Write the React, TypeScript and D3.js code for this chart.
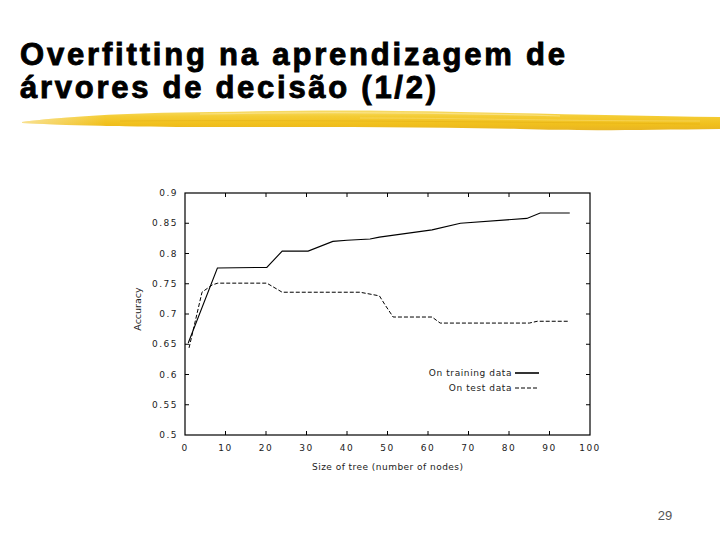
import React from "react";
import * as d3 from "d3";

const titleLines = ["Overfitting na aprendizagem de", "árvores de decisão (1/2)"];
const xTicks = [0, 10, 20, 30, 40, 50, 60, 70, 80, 90, 100];
const yTicks = [0.5, 0.55, 0.6, 0.65, 0.7, 0.75, 0.8, 0.85, 0.9];
const yTickLabels = ["0.5", "0.55", "0.6", "0.65", "0.7", "0.75", "0.8", "0.85", "0.9"];

const trainSize = [0.8, 8, 20.2, 24, 30.4, 36.5, 40, 45.7, 48, 61, 68, 84.4, 87.7, 95];
const trainAcc = [0.652, 0.776, 0.777, 0.804, 0.804, 0.82, 0.822, 0.824, 0.827, 0.839, 0.85, 0.858, 0.867, 0.867];

const testSize = [1, 4.2, 6.7, 8.1, 20.2, 24, 43.2, 48, 49.4, 51.4, 61, 63, 85, 87, 95];
const testAcc = [0.644, 0.736, 0.748, 0.751, 0.751, 0.736, 0.736, 0.73, 0.715, 0.695, 0.695, 0.685, 0.685, 0.688, 0.688];

const legendLabels = ["On training data", "On test data"];
const xAxisTitle = "Size of tree (number of nodes)";
const yAxisTitle = "Accuracy";
const pageNumber = "29";

export default function App() {
  const W = 720, H = 540;
  const x = d3.scaleLinear().domain([0, 100]).range([185, 590]);
  const y = d3.scaleLinear().domain([0.5, 0.9]).range([435, 193]);
  const line = d3.line<[number, number]>().x(d => x(d[0])).y(d => y(d[1]));
  const trainPts = trainSize.map((s, i) => [s, trainAcc[i]] as [number, number]);
  const testPts = testSize.map((s, i) => [s, testAcc[i]] as [number, number]);
  const tickFont = "'DejaVu Sans', sans-serif";
  const tl = 4;
  const brushPath = "M22,122 C60,117 120,113 210,112 C300,110 380,110 460,112 C560,114 640,116 720,117 L720,129 C640,130 580,131 520,129 C420,127 330,127 220,127 C140,127 80,126 22,123 Z";

  return (
    <div style={{ position: "absolute", left: 0, top: 0, width: W, height: H, background: "#fff" }}>
      <svg width={W} height={H} style={{ display: "block" }}>
        <defs>
          <linearGradient id="brush" x1="0" y1="0" x2="0" y2="1">
            <stop offset="0" stopColor="#f7dc6a" />
            <stop offset="0.3" stopColor="#f4cc34" />
            <stop offset="0.7" stopColor="#f1c01c" />
            <stop offset="1" stopColor="#e8b524" />
          </linearGradient>
          <linearGradient id="brushH" x1="0" y1="0" x2="1" y2="0">
            <stop offset="0" stopColor="#fff" stopOpacity="0.5" />
            <stop offset="0.12" stopColor="#fff" stopOpacity="0" />
            <stop offset="1" stopColor="#fff" stopOpacity="0" />
          </linearGradient>
        </defs>
        <rect width={W} height={H} fill="#fff" />
        {/* Title */}
        <text x={20} y={65} fontFamily="'Liberation Sans', Arial, sans-serif" fontWeight="bold" fontSize={31}
          textLength={545} lengthAdjust="spacing" fill="#000" stroke="#000" strokeWidth={0.9}>{titleLines[0]}</text>
        <text x={20} y={98} fontFamily="'Liberation Sans', Arial, sans-serif" fontWeight="bold" fontSize={31}
          textLength={416} lengthAdjust="spacing" fill="#000" stroke="#000" strokeWidth={0.9}>{titleLines[1]}</text>
        {/* Brush stroke */}
        <path d={brushPath} fill="url(#brush)" />
        <path d={brushPath} fill="url(#brushH)" />
        <path d="M200,114 C300,112 420,112 560,116" stroke="#fbe79a" strokeWidth={1.2} fill="none" opacity={0.7} />
        <path d="M120,121 C260,120 420,121 700,124" stroke="#e4ae10" strokeWidth={1} fill="none" opacity={0.5} />
        <path d="M360,118 C460,118 560,121 700,121" stroke="#f8dc70" strokeWidth={1} fill="none" opacity={0.6} />

        {/* Plot frame */}
        <rect x={x(0)} y={y(0.9)} width={x(100) - x(0)} height={y(0.5) - y(0.9)} fill="none" stroke="#000" strokeWidth={1.2} />
        {xTicks.slice(1, -1).map(t => (
          <g key={"xt" + t}>
            <line x1={x(t)} x2={x(t)} y1={y(0.5)} y2={y(0.5) - tl} stroke="#000" />
            <line x1={x(t)} x2={x(t)} y1={y(0.9)} y2={y(0.9) + tl} stroke="#000" />
          </g>
        ))}
        {yTicks.slice(1, -1).map(t => (
          <g key={"yt" + t}>
            <line x1={x(0)} x2={x(0) + tl} y1={y(t)} y2={y(t)} stroke="#000" />
            <line x1={x(100)} x2={x(100) - tl} y1={y(t)} y2={y(t)} stroke="#000" />
          </g>
        ))}
        {xTicks.map(t => (
          <text key={"xl" + t} x={x(t)} y={451} textAnchor="middle" fontFamily={tickFont} fontSize={9}
            letterSpacing={1.5} fill="#222">{String(t)}</text>
        ))}
        {yTicks.map((t, i) => (
          <text key={"yl" + t} x={178} y={y(t) + 3} textAnchor="end" fontFamily={tickFont} fontSize={9}
            letterSpacing={1.5} fill="#222">{yTickLabels[i]}</text>
        ))}
        <text transform="translate(141,309) rotate(-90)" textAnchor="middle" fontFamily={tickFont} fontSize={9.5}
          fill="#222">{yAxisTitle}</text>
        <text x={312} y={470} fontFamily={tickFont} fontSize={9} textLength={151} lengthAdjust="spacing"
          fill="#222">{xAxisTitle}</text>

        {/* Lines */}
        <path d={line(trainPts) || ""} fill="none" stroke="#000" strokeWidth={1.1} />
        <path d={line(testPts) || ""} fill="none" stroke="#000" strokeWidth={1} strokeDasharray="4,2" />

        {/* Legend */}
        <text x={512} y={376} textAnchor="end" fontFamily={tickFont} fontSize={9} letterSpacing={0.6} fill="#222">{legendLabels[0]}</text>
        <line x1={515} x2={539} y1={373} y2={373} stroke="#000" strokeWidth={1.6} />
        <text x={512} y={391} textAnchor="end" fontFamily={tickFont} fontSize={9} letterSpacing={0.6} fill="#222">{legendLabels[1]}</text>
        <line x1={515} x2={539} y1={388} y2={388} stroke="#000" strokeWidth={1} strokeDasharray="4,2" />

        <text x={665} y={520} textAnchor="middle" fontFamily="'Liberation Sans', Arial, sans-serif" fontSize={13} fill="#555">{pageNumber}</text>
      </svg>
    </div>
  );
}
